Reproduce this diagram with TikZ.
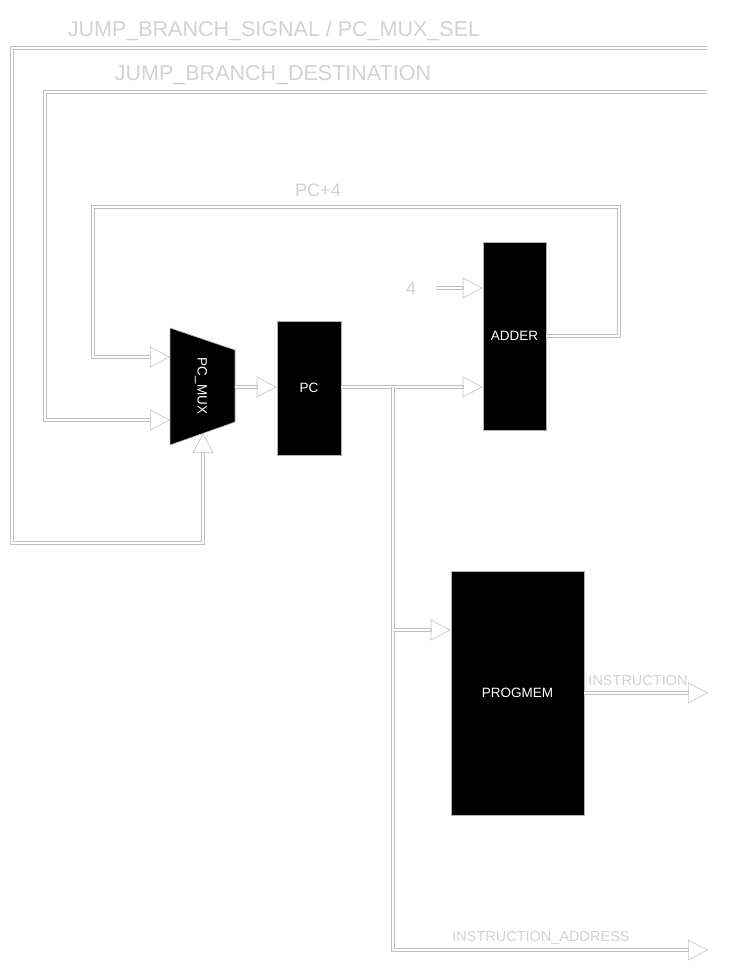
\documentclass[tikz,border=0pt]{standalone}
\usepackage{fontspec}
\setmainfont{Liberation Sans}
\usetikzlibrary{arrows.meta}
\begin{document}
\begin{tikzpicture}[x=1pt,y=-1pt,
  wire/.style={draw=white,line width=1.3pt,preaction={draw=gray!50,line width=3.2pt,arrows=-,shorten >=19pt}},
  arr/.style={wire,-{Triangle[open,length=20pt,width=21pt,line width=0.7pt,color=gray!45]}},
  blk/.style={draw=gray!60,fill=black,line width=0.6pt,text=white,inner sep=0pt,font=\fontsize{13.5}{15}\selectfont},
  lbl/.style={text=gray!35,inner sep=0pt,font=\fontsize{21.5}{24}\selectfont},
  mlbl/.style={text=gray!35,inner sep=0pt,font=\fontsize{18}{20}\selectfont},
  slbl/.style={text=gray!35,inner sep=0pt,font=\fontsize{14.5}{16}\selectfont}]
\useasboundingbox (0,0) rectangle (735,973);
% blocks
\node[blk,minimum width=64pt,minimum height=134pt] (pc) at (309,388) {PC};
\node[blk,minimum width=63pt,minimum height=188pt] (adder) at (514.5,336) {ADDER};
\node[blk,minimum width=133pt,minimum height=244pt] (progmem) at (517.5,693) {PROGMEM};
% mux
\draw[draw=gray!60,fill=black,line width=0.6pt] (170,328) -- (235,350) -- (235,422) -- (170,445) -- cycle;
\node[text=white,rotate=-90,inner sep=0pt,font=\fontsize{13.5}{15}\selectfont] (mux) at (201,386) {PC\_MUX};
\coordinate (muxin1) at (170,357);
\coordinate (muxin2) at (170,420);
\coordinate (muxsel) at (203,433);
\coordinate (muxout) at (235,387);
% labels
\node[lbl] (l1) at (274,31) {JUMP\_BRANCH\_SIGNAL / PC\_MUX\_SEL};
\node[lbl] (l2) at (273,75) {JUMP\_BRANCH\_DESTINATION};
\node[mlbl] (l3) at (318,190) {PC+4};
\node[mlbl] (four) at (411,288) {4};
\node[slbl] (l4) at (638,681) {INSTRUCTION};
\node[slbl] (l5) at (541,938) {INSTRUCTION\_ADDRESS};
% free ends
\coordinate (s1) at (707,48);
\coordinate (s2) at (707,92);
\coordinate (j) at (393,387);
\coordinate (e1) at (708,950);
\coordinate (e2) at (708,693);
% wires
\draw[arr] (s1) -- (12,48) -- (12,543) -- (203,543) -- (muxsel);
\draw[arr] (s2) -- (45,92) -- (45,420) -- (muxin2);
\draw[arr] (adder.east) -- (619,336) -- (619,207) -- (93,207) -- (93,357) -- (muxin1);
\draw[arr] (muxout) -- (pc.west |- muxout);
\draw[arr] (pc.east |- j) -- (adder.west |- j);
\draw[arr] (436,288) -- (adder.west |- four);
\draw[arr] (j) -- (j |- e1) -- (e1);
\draw[arr] (j |- 0,630) -- (progmem.west |- 0,630);
\draw[arr] (progmem.east) -- (e2);
\end{tikzpicture}
\end{document}
